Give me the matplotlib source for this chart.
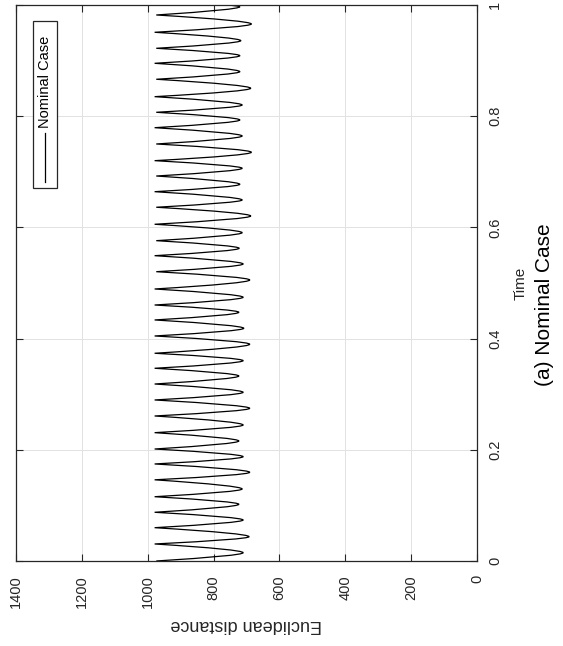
import matplotlib
matplotlib.use("Agg")
import matplotlib.pyplot as plt
from matplotlib.path import Path
from matplotlib.patches import PathPatch, Rectangle
from matplotlib.lines import Line2D

plt.rcParams['font.family'] = ['Liberation Sans', 'DejaVu Sans']

# sharp tips of the curve (high distance)
peak_time = [0.0, 0.0306, 0.0599, 0.0876, 0.1156, 0.1460, 0.1745, 0.2014, 0.2308,
             0.2608, 0.2896, 0.3183, 0.3466, 0.3736, 0.4047, 0.4335, 0.4604, 0.4892,
             0.5203, 0.5491, 0.5761, 0.6056, 0.6362, 0.6642, 0.6924, 0.7200, 0.7500,
             0.7793, 0.8070, 0.8351, 0.8664, 0.8951, 0.9221, 0.9509, 0.9820]
peak_dist = [974] + [979] * 17 + [974, 979, 974, 979, 974, 979, 974, 979, 974,
                                  979, 974, 979, 974, 979, 974, 979, 974]

# rounded turns of the curve (low distance)
trough_time = [0.0149, 0.0437, 0.0737, 0.1020, 0.1295, 0.1595, 0.1876, 0.2158, 0.2446,
               0.2746, 0.3034, 0.3327, 0.3603, 0.3898, 0.4185, 0.4473, 0.4743, 0.5054,
               0.5342, 0.5624, 0.5905, 0.6205, 0.6493, 0.6775, 0.7063, 0.7351, 0.7644,
               0.7932, 0.8201, 0.8502, 0.8801, 0.9088, 0.9358, 0.9658, 0.9969]
trough_dist = [710, 692, 710, 723, 713, 690, 710, 723, 710, 690, 710, 723, 710, 690,
               708, 723, 710, 690, 710, 722, 713, 687, 713, 720, 713, 685, 713, 720,
               713, 687, 720, 720, 717, 685, 720]

end_time = 1.0
end_dist = 760

dist_ticks = [0, 200, 400, 600, 800, 1000, 1200, 1400]
dist_labels = ['0', '200', '400', '600', '800', '1000', '1200', '1400']
time_ticks = [0, 0.2, 0.4, 0.6, 0.8, 1.0]
time_labels = ['0', '0.2', '0.4', '0.6', '0.8', '1']

# build the curve: cusp at each peak, smooth at each trough
verts = [(peak_dist[0], peak_time[0])]
codes = [Path.MOVETO]
for i in range(len(trough_time)):
    tp, vp = peak_time[i], peak_dist[i]
    tt, vt = trough_time[i], trough_dist[i]
    verts += [(vt, tp + 0.64 * (tt - tp)), (vt, tt)]
    codes += [Path.CURVE3, Path.CURVE3]
    if i + 1 < len(peak_time):
        tn, vn = peak_time[i + 1], peak_dist[i + 1]
    else:
        tn, vn = end_time, end_dist
    verts += [(vt, tt + 0.36 * (tn - tt)), (vn, tn)]
    codes += [Path.CURVE3, Path.CURVE3]

fig = plt.figure(figsize=(5.63, 6.46), dpi=100)
ax = fig.add_axes([0.0284, 0.1316, 0.8188, 0.8607])

ax.add_patch(PathPatch(Path(verts, codes), fill=False, edgecolor='black', lw=0.9, zorder=2))

ax.set_xlim(1400, 0)
ax.set_ylim(0, 1)
ax.set_xticks(dist_ticks)
ax.set_xticklabels(dist_labels, rotation=90, fontsize=10.5)
ax.set_yticks(time_ticks)
ax.set_yticklabels(time_labels, rotation=90, va='center', fontsize=10.5)
ax.tick_params(axis='both', direction='in', length=5, width=0.8, color='#262626',
               top=True, bottom=True, left=True, right=True,
               labelleft=False, labelright=True, labelbottom=True, labelcolor='#262626')
ax.tick_params(axis='x', pad=10)
ax.tick_params(axis='y', pad=8)
ax.grid(True, color='#e2e2e2', lw=0.7)
ax.set_axisbelow(True)
for s in ax.spines.values():
    s.set_color('#262626')
    s.set_linewidth(0.9)

ax.set_xlabel('Euclidean distance', rotation=180, fontsize=13, labelpad=6, color='#262626')
ax.yaxis.set_label_position('right')
ax.set_ylabel('Time', rotation=90, fontsize=11, labelpad=8, color='#262626')

# legend, drawn by hand so it can be rotated
ax.add_patch(Rectangle((0.0369, 0.671), 0.052, 0.30, transform=ax.transAxes,
                       facecolor='white', edgecolor='#262626', lw=0.9, zorder=3))
ax.add_line(Line2D([0.0629, 0.0629], [0.682, 0.770], transform=ax.transAxes,
                   color='black', lw=0.9, zorder=4))
ax.text(0.0629, 0.779, 'Nominal Case', transform=ax.transAxes, rotation=90,
        rotation_mode='anchor', ha='left', va='center', fontsize=10.5, zorder=4)

fig.text(545 / 563, 0.529, '(a) Nominal Case', rotation=90, ha='center', va='center',
         fontsize=15)

fig.savefig('out.png', dpi=100)
